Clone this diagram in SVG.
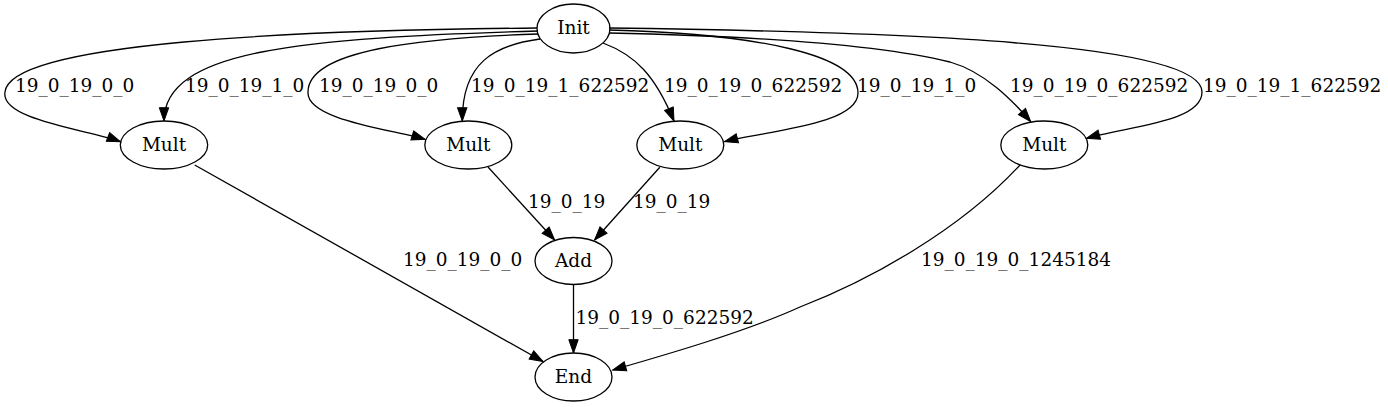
<svg xmlns="http://www.w3.org/2000/svg" width="1388" height="407" viewBox="0 0 1388 407">
<style>
.node ellipse{fill:none;stroke:#000;stroke-width:1.3}
text{font-family:"DejaVu Serif","Liberation Serif",serif;font-size:18.5px;fill:#000}
.node text{text-anchor:middle}
.edge path,.edge line{fill:none;stroke:#000;stroke-width:1.3;marker-end:url(#arr)}
</style>
<defs>
<marker id="arr" markerUnits="userSpaceOnUse" markerWidth="14" markerHeight="10" refX="13.3" refY="4.7" orient="auto" overflow="visible">
<path d="M0,0 L13.3,4.7 L0,9.4 Z" fill="#000" stroke="#000" stroke-width="1"/>
</marker>
</defs>
<rect width="1388" height="407" fill="#fff"/>
<g id="connectors" class="edge">
<path d="M537,28 C300,30 10,42 5,92 C0,120 90,130 120.4,141.7"/>
<path d="M538,31 C300,38 164,50 164,121"/>
<path d="M538,34 C420,38 308,50 308,92 C306,120 395,130 425,139.3"/>
<path d="M540,39 C495,45 462,62 462.3,121"/>
<path d="M603,43 C635,55 655,75 674,121"/>
<path d="M609,30 C760,34 858,55 858,93 C858,125 765,131 724.5,141.7"/>
<path d="M609,33 C750,36 880,45 950,62 C985,72 1012,100 1030.7,121.5"/>
<path d="M609,28 C900,32 1202,42 1202,92 C1202,122 1130,126 1086.5,138.3"/>
<line x1="194.7" y1="165" x2="543" y2="361.5"/>
<line x1="488" y1="167" x2="554.6" y2="240"/>
<line x1="659.8" y1="167.3" x2="594.6" y2="240"/>
<line x1="573.5" y1="285" x2="573.5" y2="353"/>
<path d="M1020,165 C960,230 870,280 800,307 C745,332 665,355 612.7,370"/>
</g>
<g id="edge-labels">
<text x="15" y="92">19_0_19_0_0</text>
<text x="185" y="92">19_0_19_1_0</text>
<text x="319" y="92">19_0_19_0_0</text>
<text x="471" y="92">19_0_19_1_622592</text>
<text x="664" y="92">19_0_19_0_622592</text>
<text x="857" y="92">19_0_19_1_0</text>
<text x="1010" y="92">19_0_19_0_622592</text>
<text x="1203" y="92">19_0_19_1_622592</text>
<text x="528" y="207.5">19_0_19</text>
<text x="633" y="207.5">19_0_19</text>
<text x="403" y="265.5">19_0_19_0_0</text>
<text x="921" y="265.5">19_0_19_0_1245184</text>
<text x="575.5" y="323.5">19_0_19_0_622592</text>
</g>
<g id="init" class="node"><ellipse cx="573.5" cy="28.5" rx="36.5" ry="24.5"/><text x="573.5" y="34">Init</text></g>
<g id="mult1" class="node"><ellipse cx="164" cy="145" rx="43.7" ry="24"/><text x="164" y="150.5">Mult</text></g>
<g id="mult2" class="node"><ellipse cx="468.3" cy="145" rx="43.5" ry="24"/><text x="468.3" y="150.5">Mult</text></g>
<g id="mult3" class="node"><ellipse cx="680.3" cy="145" rx="43.5" ry="24"/><text x="680.3" y="150.5">Mult</text></g>
<g id="mult4" class="node"><ellipse cx="1044.3" cy="145" rx="43.5" ry="24"/><text x="1044.3" y="150.5">Mult</text></g>
<g id="add" class="node"><ellipse cx="573.5" cy="261" rx="38.5" ry="23.5"/><text x="573.5" y="266.5">Add</text></g>
<g id="end" class="node"><ellipse cx="573.5" cy="377" rx="38.5" ry="24"/><text x="573.5" y="382.5">End</text></g>
</svg>
